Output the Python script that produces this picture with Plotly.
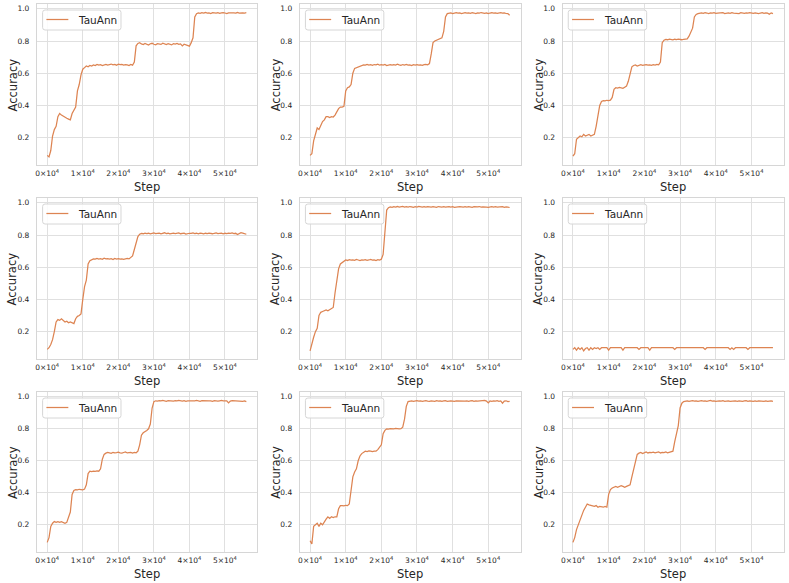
import plotly.graph_objects as go
from plotly.subplots import make_subplots

# logged training steps (every 500 steps)
steps = list(range(0, 56500, 500))

acc_1 = ([0.09, 0.08, 0.12, 0.21, 0.25, 0.27, 0.33, 0.35, 0.34, 0.335,
          0.33, 0.32, 0.315, 0.31, 0.35, 0.37, 0.39, 0.49, 0.53, 0.59,
          0.625, 0.635, 0.645, 0.64, 0.648]
         + [0.645, 0.652, 0.648, 0.655, 0.65, 0.653, 0.648, 0.652,
            0.655, 0.65, 0.654, 0.657, 0.652, 0.655, 0.65, 0.656,
            0.653, 0.655, 0.651, 0.654, 0.652, 0.648, 0.655, 0.65]
         + [0.67, 0.77, 0.785]
         + [0.79, 0.782, 0.778, 0.785, 0.78, 0.775, 0.783, 0.786, 0.78, 0.777,
            0.784, 0.781, 0.779, 0.786, 0.782, 0.778, 0.783, 0.78, 0.776, 0.784,
            0.781, 0.785, 0.779, 0.782, 0.77, 0.78, 0.776, 0.772, 0.768, 0.79]
         + [0.82, 0.95, 0.97]
         + [0.975, 0.972, 0.976, 0.974, 0.977, 0.973, 0.975, 0.971, 0.976, 0.974,
            0.973, 0.976, 0.972, 0.975, 0.977, 0.974, 0.97, 0.975, 0.976, 0.973,
            0.975, 0.974, 0.977, 0.973, 0.976, 0.975, 0.974, 0.976])

acc_2 = ([0.09, 0.10, 0.18, 0.23, 0.26, 0.25, 0.28, 0.30, 0.31, 0.33,
          0.33, 0.325, 0.33, 0.328, 0.34, 0.365, 0.38, 0.39, 0.39, 0.395,
          0.49, 0.51, 0.515, 0.53, 0.60, 0.63, 0.635, 0.64, 0.645]
         + [0.648, 0.652, 0.65, 0.655, 0.651, 0.653, 0.649, 0.654, 0.652, 0.656,
            0.65, 0.653, 0.651, 0.655, 0.648, 0.652, 0.654, 0.65, 0.653, 0.651,
            0.656, 0.652, 0.649, 0.654, 0.651, 0.655, 0.65, 0.652, 0.648, 0.653,
            0.651, 0.654, 0.65, 0.652, 0.649, 0.653, 0.655, 0.652, 0.66]
         + [0.72, 0.79, 0.80, 0.805, 0.81, 0.81, 0.82, 0.86, 0.95, 0.97]
         + [0.972, 0.975, 0.971, 0.974, 0.976, 0.973, 0.975, 0.97, 0.974, 0.976,
            0.973, 0.975, 0.972, 0.976, 0.974, 0.971, 0.975, 0.973, 0.977, 0.974,
            0.972, 0.975, 0.97, 0.974, 0.976, 0.973, 0.975, 0.972, 0.974, 0.976,
            0.973, 0.975, 0.971, 0.97, 0.96])

acc_3 = ([0.085, 0.10, 0.19, 0.20, 0.21, 0.205, 0.22, 0.21, 0.215, 0.22,
          0.21, 0.215, 0.22, 0.27, 0.34, 0.40, 0.425]
         + [0.43, 0.428, 0.432, 0.43, 0.433]
         + [0.45, 0.50]
         + [0.51, 0.508, 0.512, 0.51, 0.506, 0.513]
         + [0.52, 0.55, 0.60, 0.64]
         + [0.648, 0.652, 0.645, 0.65, 0.653, 0.649, 0.651, 0.654, 0.65, 0.652,
            0.649, 0.653, 0.651, 0.655, 0.652]
         + [0.67, 0.79]
         + [0.805, 0.81, 0.808, 0.812, 0.81, 0.807, 0.811, 0.809, 0.812, 0.81,
            0.808, 0.811, 0.81, 0.813]
         + [0.83, 0.86, 0.88, 0.95, 0.965]
         + [0.97, 0.973, 0.975, 0.972, 0.976, 0.974, 0.971, 0.975, 0.973, 0.976,
            0.972, 0.974, 0.975, 0.973, 0.976, 0.971, 0.974, 0.975, 0.972, 0.976,
            0.974, 0.973, 0.975, 0.971, 0.976, 0.974, 0.972, 0.975, 0.973, 0.976,
            0.974, 0.972, 0.975, 0.973, 0.97, 0.974, 0.976, 0.972, 0.975, 0.973,
            0.966, 0.975, 0.97])

acc_4 = ([0.09, 0.10, 0.12, 0.15, 0.20, 0.26, 0.275, 0.27, 0.28, 0.27,
          0.26, 0.265, 0.255, 0.26, 0.255, 0.25, 0.28, 0.295, 0.30, 0.31,
          0.40, 0.48, 0.52, 0.62, 0.64]
         + [0.648, 0.652, 0.65, 0.655, 0.651, 0.653, 0.649, 0.656, 0.652, 0.654,
            0.65, 0.653, 0.648, 0.655, 0.651, 0.654, 0.65, 0.652, 0.649, 0.653,
            0.655, 0.652]
         + [0.66, 0.67, 0.71, 0.75, 0.79, 0.805]
         + [0.81, 0.808, 0.812, 0.809, 0.811, 0.807, 0.81, 0.813, 0.809, 0.811,
            0.812, 0.808, 0.81, 0.814, 0.809, 0.811, 0.807, 0.81, 0.812, 0.809,
            0.811, 0.813, 0.808, 0.81, 0.812, 0.806, 0.809, 0.811, 0.81, 0.813,
            0.809, 0.811, 0.808, 0.812, 0.81, 0.807, 0.811, 0.809, 0.812, 0.81,
            0.808, 0.811, 0.813, 0.809, 0.81, 0.812, 0.808, 0.811, 0.809, 0.812,
            0.81, 0.813, 0.809, 0.811, 0.803, 0.81, 0.815, 0.812, 0.808, 0.805])

acc_5 = ([0.08, 0.13, 0.165, 0.20, 0.22, 0.30, 0.32, 0.325, 0.33, 0.335,
          0.33, 0.335, 0.34, 0.35, 0.44, 0.53, 0.59, 0.62, 0.63, 0.64]
         + [0.645, 0.642, 0.647, 0.644, 0.646, 0.643, 0.648, 0.645, 0.641, 0.646,
            0.644, 0.647, 0.643, 0.645, 0.648, 0.644, 0.646, 0.642, 0.647, 0.645,
            0.65]
         + [0.68, 0.85, 0.955, 0.97]
         + [0.975, 0.972, 0.976, 0.974, 0.977, 0.973, 0.975, 0.978, 0.974, 0.976,
            0.973, 0.977, 0.975, 0.972, 0.976, 0.974, 0.978, 0.975, 0.973, 0.976,
            0.974, 0.977, 0.975, 0.973, 0.976, 0.974, 0.972, 0.977, 0.975, 0.974,
            0.976, 0.973, 0.975, 0.977, 0.974, 0.976, 0.972, 0.975, 0.974, 0.977,
            0.975, 0.973, 0.976, 0.974, 0.977, 0.975, 0.972, 0.976, 0.974, 0.975,
            0.977, 0.973, 0.975, 0.976, 0.974, 0.972, 0.975, 0.977, 0.974, 0.976,
            0.973, 0.975, 0.974, 0.976, 0.972, 0.975, 0.973, 0.971])

acc_6 = [0.09, 0.1, 0.085, 0.1, 0.09, 0.1, 0.08, 0.095, 0.1, 0.085,
         0.1, 0.09, 0.1, 0.095, 0.1, 0.09, 0.1, 0.1, 0.1, 0.1,
         0.085, 0.1, 0.1, 0.1, 0.1, 0.1, 0.1, 0.1, 0.085, 0.1,
         0.1, 0.1, 0.1, 0.1, 0.1, 0.1, 0.1, 0.09, 0.1, 0.1,
         0.1, 0.1, 0.1, 0.085, 0.1, 0.1, 0.1, 0.1, 0.1, 0.1,
         0.1, 0.1, 0.1, 0.1, 0.1, 0.1, 0.1, 0.09, 0.1, 0.1,
         0.1, 0.1, 0.1, 0.1, 0.1, 0.1, 0.1, 0.1, 0.1, 0.1,
         0.1, 0.1, 0.1, 0.1, 0.09, 0.1, 0.1, 0.1, 0.1, 0.1,
         0.1, 0.1, 0.1, 0.1, 0.1, 0.1, 0.1, 0.1, 0.09, 0.1,
         0.09, 0.1, 0.1, 0.1, 0.1, 0.1, 0.1, 0.1, 0.09, 0.1,
         0.1, 0.1, 0.1, 0.1, 0.1, 0.1, 0.1, 0.1, 0.1, 0.1,
         0.1, 0.1, 0.1]

acc_7 = ([0.09, 0.12, 0.19, 0.21, 0.22, 0.215, 0.22, 0.215, 0.22, 0.215,
          0.21, 0.215, 0.25, 0.28, 0.39, 0.415]
         + [0.42, 0.418, 0.422, 0.42, 0.419, 0.423]
         + [0.45, 0.52]
         + [0.535, 0.533, 0.536, 0.534, 0.537, 0.535]
         + [0.55, 0.61, 0.64]
         + [0.648, 0.652, 0.65, 0.647, 0.653, 0.649, 0.651, 0.654, 0.65, 0.648,
            0.652, 0.655, 0.649, 0.651, 0.653, 0.648, 0.652, 0.65]
         + [0.66, 0.70, 0.76, 0.775, 0.78, 0.79, 0.80, 0.83, 0.93, 0.97]
         + [0.975, 0.973, 0.976, 0.974, 0.977, 0.975, 0.972, 0.976, 0.974, 0.975,
            0.973, 0.976, 0.974, 0.977, 0.975, 0.973, 0.976, 0.972, 0.975, 0.974,
            0.976, 0.973, 0.975, 0.977, 0.974, 0.972, 0.976, 0.975, 0.973, 0.976,
            0.974, 0.975, 0.972, 0.976, 0.974, 0.973, 0.975, 0.977, 0.974, 0.976,
            0.975, 0.962, 0.973, 0.976, 0.975, 0.977, 0.974, 0.976, 0.975, 0.972,
            0.974, 0.97])

acc_8 = ([0.10, 0.08, 0.19, 0.20, 0.21, 0.19, 0.21, 0.20, 0.22, 0.235,
          0.25, 0.24, 0.25, 0.245, 0.25, 0.25, 0.30, 0.32, 0.32, 0.318,
          0.322, 0.32, 0.33, 0.42, 0.50, 0.53, 0.55, 0.60, 0.63, 0.645,
          0.65]
         + [0.66, 0.658, 0.662, 0.66, 0.657, 0.661, 0.66]
         + [0.67, 0.685, 0.70, 0.77, 0.79]
         + [0.80, 0.798, 0.801, 0.799, 0.80, 0.802, 0.799, 0.80, 0.801, 0.81]
         + [0.86, 0.94, 0.97]
         + [0.972, 0.975, 0.971, 0.974, 0.976, 0.973, 0.975, 0.972, 0.974, 0.976,
            0.973, 0.971, 0.975, 0.974, 0.972, 0.976, 0.973, 0.975, 0.971, 0.974,
            0.976, 0.972, 0.974, 0.975, 0.973, 0.971, 0.975, 0.974, 0.976, 0.972,
            0.974, 0.973, 0.975, 0.971, 0.974, 0.976, 0.972, 0.975, 0.973, 0.974,
            0.976, 0.975, 0.978, 0.973, 0.962, 0.974, 0.971, 0.975, 0.973, 0.976,
            0.972, 0.974, 0.96, 0.973, 0.975, 0.97, 0.972])

acc_9 = ([0.09, 0.12, 0.17, 0.20, 0.24, 0.27, 0.29, 0.31, 0.33, 0.325,
          0.32, 0.32, 0.315, 0.32, 0.31, 0.315, 0.31, 0.31, 0.315, 0.31,
          0.39, 0.42, 0.43, 0.435, 0.44, 0.435, 0.44, 0.445, 0.44, 0.435,
          0.44, 0.445, 0.45, 0.50, 0.55, 0.61, 0.64]
         + [0.648, 0.652, 0.645, 0.65, 0.655, 0.649, 0.653, 0.651, 0.654, 0.65,
            0.652, 0.656, 0.649, 0.653, 0.651, 0.655, 0.65, 0.652, 0.654]
         + [0.66, 0.72, 0.78, 0.82, 0.93, 0.96]
         + [0.97, 0.972, 0.975, 0.971, 0.974, 0.976, 0.973, 0.975, 0.972, 0.974,
            0.976, 0.973, 0.975, 0.971, 0.974, 0.977, 0.973, 0.975, 0.972, 0.974,
            0.975, 0.973, 0.976, 0.972, 0.974, 0.975, 0.971, 0.973, 0.976, 0.974,
            0.972, 0.975, 0.973, 0.971, 0.974, 0.976, 0.972, 0.975, 0.973, 0.971,
            0.974, 0.972, 0.975, 0.973, 0.97, 0.972, 0.974, 0.971, 0.973, 0.975,
            0.972])

runs = [acc_1, acc_2, acc_3, acc_4, acc_5, acc_6, acc_7, acc_8, acc_9]
for a in runs:
    assert len(a) == len(steps), len(a)

series_name = "TauAnn"
x_tickvals = [0, 10000, 20000, 30000, 40000, 50000]
x_ticktext = [f"{i}\u00d710<sup>4</sup>" for i in range(6)]
y_tickvals = [0.2, 0.4, 0.6, 0.8, 1.0]
y_ticktext = ["0.2", "0.4", "0.6", "0.8", "1.0"]

W, H = 789, 583
col_px = [(35, 256), (298.5, 520), (562, 784)]
row_px = [(4, 165), (198, 359), (392, 552)]
line_col = "#dd8452"
text_col = "#262626"
font = "DejaVu Sans"


def px(x, y):
    # pixel position (from top-left) -> paper coordinates
    return x / W, 1 - y / H


def rounded_box(x0, y0, x1, y1, r=2.5):
    ax, ay = px(x0, y0)
    bx, by = px(x1, y1)
    rx, ry = r / W, r / H
    return (f"M {ax + rx},{ay} L {bx - rx},{ay} Q {bx},{ay} {bx},{ay - ry} "
            f"L {bx},{by + ry} Q {bx},{by} {bx - rx},{by} "
            f"L {ax + rx},{by} Q {ax},{by} {ax},{by + ry} "
            f"L {ax},{ay - ry} Q {ax},{ay} {ax + rx},{ay} Z")


fig = make_subplots(rows=3, cols=3)
annotations = []
shapes = []
for k, acc in enumerate(runs):
    r, c = divmod(k, 3)
    fig.add_trace(go.Scatter(x=steps, y=acc, mode="lines", name=series_name,
                             line=dict(color=line_col, width=1.25),
                             showlegend=False),
                  row=r + 1, col=c + 1)
    x0, x1 = col_px[c]
    y0, y1 = row_px[r]
    n = "" if k == 0 else str(k + 1)
    fig.layout["xaxis" + n].domain = [x0 / W, x1 / W]
    fig.layout["yaxis" + n].domain = [1 - y1 / H, 1 - y0 / H]

    # legend box in the upper-left corner of every panel
    shapes.append(dict(type="path", xref="paper", yref="paper",
                       path=rounded_box(x0 + 5.7, y0 + 6, x0 + 84.3, y0 + 26),
                       fillcolor="rgba(255,255,255,0.85)",
                       line=dict(color="#d6d6d6", width=1)))
    lx0, ly = px(x0 + 9.5, y0 + 15.5)
    lx1, _ = px(x0 + 31.5, y0 + 15.5)
    shapes.append(dict(type="line", xref="paper", yref="paper",
                       x0=lx0, x1=lx1, y0=ly, y1=ly,
                       line=dict(color=line_col, width=1.25)))
    tx, ty = px(x0 + 39.5, y0 + 16)
    annotations.append(dict(text=series_name, showarrow=False,
                            xref="paper", yref="paper", x=tx, y=ty,
                            xanchor="left", yanchor="middle",
                            font=dict(family=font, size=10.5, color=text_col)))

    ax_, ay_ = px(x0 - 24, (y0 + y1) / 2)
    annotations.append(dict(text="Accuracy", textangle=-90, showarrow=False,
                            xref="paper", yref="paper", x=ax_, y=ay_,
                            xanchor="center", yanchor="middle",
                            font=dict(family=font, size=11.5, color=text_col)))
    sx, sy = px((x0 + x1) / 2, y1 + 22)
    annotations.append(dict(text="Step", showarrow=False,
                            xref="paper", yref="paper", x=sx, y=sy,
                            xanchor="center", yanchor="middle",
                            font=dict(family=font, size=11.5, color=text_col)))

fig.update_xaxes(range=[-2900, 59100], tickvals=x_tickvals, ticktext=x_ticktext,
                 showgrid=True, gridcolor="#e0e0e0", gridwidth=1,
                 showline=True, mirror=True, linecolor="#d6d6d6", linewidth=1,
                 zeroline=False, ticks="outside", ticklen=1,
                 tickcolor="rgba(0,0,0,0)",
                 tickfont=dict(family=font, size=7.5, color=text_col))
fig.update_yaxes(range=[0.03, 1.03], tickvals=y_tickvals, ticktext=y_ticktext,
                 showgrid=True, gridcolor="#e0e0e0", gridwidth=1,
                 showline=True, mirror=True, linecolor="#d6d6d6", linewidth=1,
                 zeroline=False, ticks="outside", ticklen=5,
                 tickcolor="rgba(0,0,0,0)",
                 tickfont=dict(family=font, size=7.5, color=text_col))

fig.update_layout(width=W, height=H, margin=dict(l=0, r=0, t=0, b=0),
                  paper_bgcolor="white", plot_bgcolor="white",
                  annotations=annotations, shapes=shapes,
                  font=dict(family=font), showlegend=False)

fig.write_html("out.html", config={"displayModeBar": False},
               post_script="document.body.style.margin='0px';")
